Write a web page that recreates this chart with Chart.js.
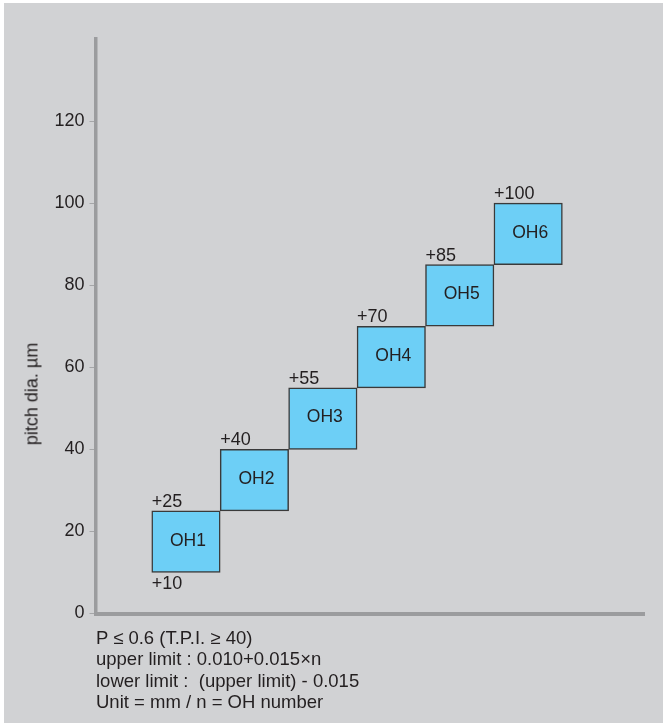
<!DOCTYPE html>
<html>
<head>
<meta charset="utf-8">
<title>OH pitch diameter limits</title>
<script src="https://cdn.jsdelivr.net/npm/chart.js@4.4.1/dist/chart.umd.min.js"></script>
<style>
  html, body { margin: 0; padding: 0; background: #fff; }
  #wrap {
    position: relative; width: 663px; height: 723px; overflow: hidden;
    font-family: "Liberation Sans", Arial, sans-serif; color: #231f20;
  }
  #bg { position: absolute; left: 4px; top: 3px; right: 0; bottom: 0; background: #d1d2d4; }
  #chart { position: absolute; left: 0; top: 0; }
  #ytitle {
    position: absolute; left: 32px; top: 394px; font-size: 18px; white-space: nowrap;
    transform: translate(-50%, -50%) rotate(-90deg);
  }
  #notes {
    position: absolute; left: 96px; top: 627px; font-size: 18.5px; line-height: 21.3px;
  }
</style>
</head>
<body>
<div id="wrap">
  <div id="bg"></div>
  <canvas id="chart" width="663" height="723"></canvas>
  <div id="ytitle">pitch dia. µm</div>
  <div id="notes">
    <div>P ≤ 0.6 (T.P.I. ≥ 40)</div>
    <div>upper limit : 0.010+0.015×n</div>
    <div>lower limit :&nbsp; (upper limit) - 0.015</div>
    <div>Unit = mm / n = OH number</div>
  </div>
</div>
<script>
  // ===== Datos =====
  const categories = ["OH1", "OH2", "OH3", "OH4", "OH5", "OH6"];
  const lowerLimit = [10, 25, 40, 55, 70, 85];
  const upperLimit = [25, 40, 55, 70, 85, 100];
  const yTicks = [0, 20, 40, 60, 80, 100, 120];

  const FONT = "Liberation Sans, Arial, sans-serif";
  const TEXT = "#231f20";

  // etiquetas +lim arriba / +lim abajo / OHn al centro
  const boxLabels = {
    id: "boxLabels",
    afterDatasetsDraw(chart) {
      const ctx = chart.ctx;
      const meta = chart.getDatasetMeta(0);
      ctx.save();
      ctx.fillStyle = TEXT;
      meta.data.forEach((bar, i) => {
        const left = bar.x - bar.width / 2;
        const top = Math.min(bar.y, bar.base);
        const bottom = Math.max(bar.y, bar.base);

        ctx.font = "18px " + FONT;
        ctx.textAlign = "left";
        ctx.textBaseline = "alphabetic";
        ctx.fillText("+" + upperLimit[i], left, top - 4);

        if (i === 0) {
          ctx.textBaseline = "top";
          ctx.fillText("+" + lowerLimit[i], left, bottom + 3);
        }

        ctx.font = "17.5px " + FONT;
        ctx.textAlign = "center";
        ctx.textBaseline = "middle";
        ctx.fillText(categories[i], bar.x + 2, (top + bottom) / 2 - 1);
      });
      ctx.restore();
    }
  };

  new Chart(document.getElementById("chart"), {
    type: "bar",
    data: {
      datasets: [{
        data: categories.map((c, i) => ({ x: i + 1, y: [lowerLimit[i], upperLimit[i]] })),
        backgroundColor: "#6dcff6",
        borderColor: "#3a3a3a",
        borderWidth: 1.5,
        borderSkipped: false,
        categoryPercentage: 1,
        barPercentage: 1
      }]
    },
    options: {
      responsive: false,
      animation: false,
      layout: { padding: { left: 0, top: 39, right: 18.5, bottom: 99.5 } },
      plugins: { legend: { display: false }, tooltip: { enabled: false } },
      scales: {
        x: {
          type: "linear",
          min: -0.322,
          max: 7.70,
          offset: false,
          // ticks only at box centres so bars fill a whole unit
          afterBuildTicks: (s) => { s.ticks = categories.map((c, i) => ({ value: i + 1 })); },
          ticks: { display: false },
          grid: { display: true, drawOnChartArea: false, drawTicks: false },
          border: { display: true, width: 4, color: "#9b9c9e" },
          afterFit: (s) => { s.height = 10; }
        },
        y: {
          min: 0,
          max: 140,
          afterBuildTicks: (s) => { s.ticks = yTicks.map(v => ({ value: v })); },
          afterFit: (s) => { s.width = 95.5; },
          ticks: {
            color: TEXT,
            font: { family: FONT, size: 18 },
            padding: 5
          },
          grid: {
            display: true,
            drawOnChartArea: false,
            drawTicks: true,
            tickLength: 6,
            tickColor: "#a5a6a8",
            lineWidth: 1
          },
          border: { display: true, width: 3.5, color: "#9b9c9e" }
        }
      }
    },
    plugins: [boxLabels]
  });
</script>
</body>
</html>
